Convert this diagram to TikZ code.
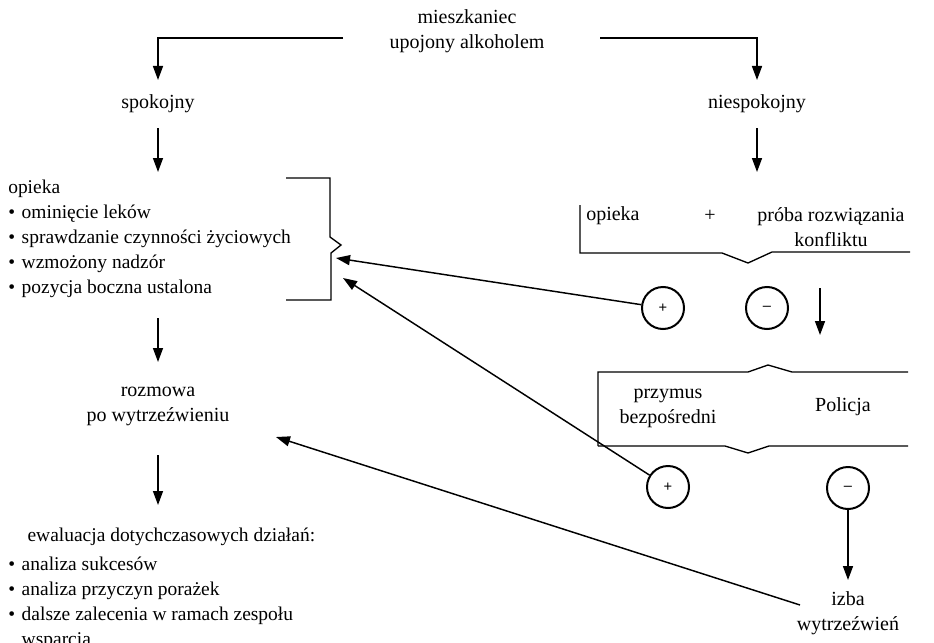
\documentclass[tikz,border=0pt]{standalone}
\usepackage{fontspec}
\setmainfont{Liberation Serif}
\newfontfamily\signfont{Liberation Sans}
\usetikzlibrary{arrows.meta}
\newcommand\bul{\textbullet\hspace{5pt}}
\tikzset{
  txt/.style={inner sep=0pt, align=center, font=\fontsize{15}{18.75}\selectfont},
  ltxt/.style={inner sep=0pt, align=left, font=\fontsize{14.6}{18.75}\selectfont},
  arr/.style={line width=1.1pt, -{Triangle[length=10.5pt,width=7.5pt]}},
  brk/.style={line width=1pt, line join=miter},
  sign/.style={circle, draw, line width=1.5pt, minimum size=31.5pt, inner sep=0pt, font=\signfont\fontsize{11}{13}\selectfont}
}
\begin{document}
\begin{tikzpicture}[x=0.75pt, y=-0.75pt]
\useasboundingbox (0,0) rectangle (934,642);

% top
\node[txt] (top) at (467,31) {mieszkaniec\\upojony alkoholem};
\node[txt] (spok) at (158,104) {spokojny};
\node[txt] (niesp) at (757,104) {niespokojny};
\coordinate (tl) at (343,38);
\coordinate (tr) at (600,38);
\draw[arr] (tl) -- (158,38) -- (158,80);
\draw[arr] (tr) -- (757,38) -- (757,80);

% left column
\node[ltxt, anchor=west] (opieka) at (8,239) {opieka\\
\bul ominięcie leków\\
\bul sprawdzanie czynności życiowych\\
\bul wzmożony nadzór\\
\bul pozycja boczna ustalona};
\coordinate (a1s) at (158,128); \coordinate (a1e) at (158,172);
\draw[arr] (a1s) -- (a1e);

\draw[brk] (286,178) -- (330,178) -- (330,237) -- (341,245) -- (331,253) -- (331,300) -- (286,300);
\coordinate (bt1) at (336,258);
\coordinate (bt2) at (343,278);

\coordinate (a2s) at (158,318); \coordinate (a2e) at (158,362);
\draw[arr] (a2s) -- (a2e);
\node[txt] (rozm) at (158,406) {rozmowa\\po wytrzeźwieniu};
\coordinate (a3s) at (158,455); \coordinate (a3e) at (158,505);
\draw[arr] (a3s) -- (a3e);

\node[ltxt, anchor=north west] (ewal) at (8,528) {\hspace*{14.5pt}ewaluacja dotychczasowych działań:\\[3pt]
\bul analiza sukcesów\\
\bul analiza przyczyn porażek\\
\bul dalsze zalecenia w ramach zespołu\\
\hphantom{\bul}wsparcia};

% right column
\coordinate (a4s) at (757,128); \coordinate (a4e) at (757,172);
\draw[arr] (a4s) -- (a4e);
\node[txt, anchor=west] (opr) at (586,216) {opieka};
\node[txt] (plus) at (710,216) {+};
\node[txt] (proba) at (831,227) {próba rozwiązania\\konfliktu};
\draw[brk] (580,205) -- (580,253) -- (722,253) -- (748,263) -- (772,252) -- (910,252);

\node[sign] (p1) at (663,308) {+};
\node[sign] (m1) at (767,308) {–};
\coordinate (a5s) at (820,288); \coordinate (a5e) at (820,335);
\draw[arr] (a5s) -- (a5e);

\draw[brk] (598,446) -- (598,372) -- (748,372) -- (768,365) -- (792,372) -- (908,372);
\draw[brk] (598,446) -- (725,446) -- (748,453) -- (769,446) -- (908,446);
\node[txt] (przym) at (668,408) {przymus\\bezpośredni};
\node[txt] (pol) at (843,407) {Policja};

\node[sign] (p2) at (668,487) {+};
\node[sign] (m2) at (848,488) {–};
\coordinate (a6e) at (848,580);
\draw[arr] (m2) -- (a6e);
\node[txt] (izba) at (848,613) {izba\\wytrzeźwień};

% long arrows
\draw[arr] (p1) -- (bt1);
\draw[arr] (p2) -- (bt2);
\coordinate (ib) at (800,605);
\coordinate (rz) at (276,437);
\draw[arr] (ib) -- (rz);
\end{tikzpicture}
\end{document}
